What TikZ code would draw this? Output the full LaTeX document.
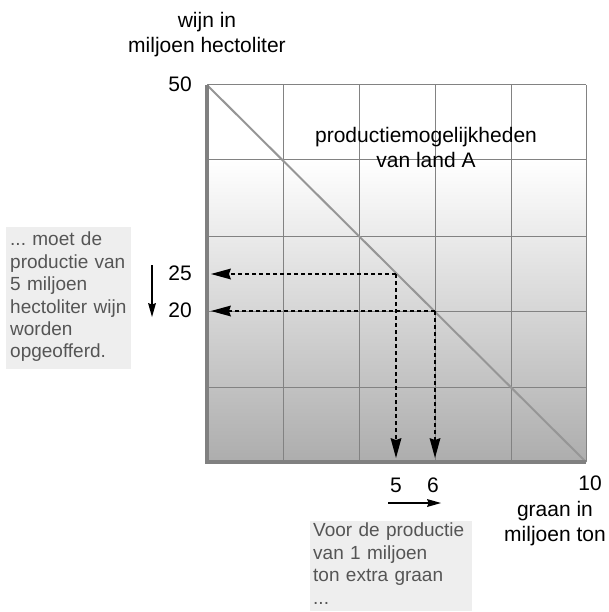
\documentclass[tikz,border=0pt]{standalone}
\usepackage{fontspec}
\setmainfont{Liberation Sans}
\usetikzlibrary{arrows.meta}
\frenchspacing
\definecolor{gridgray}{RGB}{130,130,130}
\definecolor{axisgray}{RGB}{128,128,128}
\definecolor{diaggray}{RGB}{150,150,150}
\definecolor{shadebot}{RGB}{173,173,173}
\definecolor{notefill}{RGB}{238,238,238}
\definecolor{notetext}{RGB}{85,85,85}
\tikzset{
  lbl/.style={font=\fontsize{21}{25}\selectfont, inner sep=0pt, align=center},
  note/.style={font=\fontsize{19}{22.4}\selectfont, text=notetext, align=left, anchor=north west},
  gridline/.style={draw=gridgray, line width=1pt},
  axisline/.style={draw=axisgray, line width=3.5pt},
  bigtip/.tip={Stealth[length=20pt,width=11pt,inset=2pt,line width=0pt]},
  smalltip/.tip={Stealth[length=14pt,width=8pt,inset=1.5pt,line width=0pt]},
  dasharrow/.style={line width=2pt, dash pattern=on 4pt off 3pt, -bigtip},
  solidarrow/.style={line width=1.5pt, -smalltip}
}
\begin{document}
\begin{tikzpicture}[x=1pt,y=-1pt]
\useasboundingbox (0,0) rectangle (609,612);
% plot area
\fill[white] (207,85) rectangle (586,160);
\shade[top color=white, bottom color=shadebot] (207,160) rectangle (586,462);
% grid
\foreach \x in {283,359,435,511,586} \draw[gridline] (\x,85) -- (\x,462);
\foreach \y in {85,160,236,311,387} \draw[gridline] (207,\y) -- (586,\y);
% named points
\coordinate (T) at (207,85);
\coordinate (O) at (207,462);
\coordinate (R) at (586,462);
\coordinate (P25) at (396,274);
\coordinate (P20) at (435,311);
\coordinate (L25) at (211,274);
\coordinate (L20) at (211,311);
\coordinate (B5) at (396,458);
\coordinate (B6) at (435,458);
% diagonal
\draw[draw=diaggray, line width=2pt] (T) -- (R);
% axes
\draw[axisline] (T) -- (O) -- (R);
% dashed arrows
\draw[dasharrow] (P25) -- (L25);
\draw[dasharrow] (P20) -- (L20);
\draw[dasharrow] (P25) -- (B5);
\draw[dasharrow] (P20) -- (B6);
% labels
\node[lbl] (ylab) at (207,35) {wijn in\\miljoen hectoliter};
\node[lbl, anchor=east] (n50) at (192,84) {50};
\node[lbl, anchor=east] (n25) at (192,273) {25};
\node[lbl, anchor=east] (n20) at (192,310) {20};
\node[lbl] (n5) at (396,485) {5};
\node[lbl] (n6) at (433,485) {6};
\node[lbl] (n10) at (590,483) {10};
\node[lbl] (xlab) at (555,524) {graan in\\miljoen ton};
\node[lbl] (title) at (426,147) {productiemogelijkheden\\van land A};
% small arrows
\coordinate (dA) at (152,265);
\coordinate (dB) at (152,317);
\coordinate (rA) at (388,503);
\coordinate (rB) at (441,503);
\draw[solidarrow] (dA) -- (dB);
\draw[solidarrow] (rA) -- (rB);
% notes
\fill[notefill] (6,227) rectangle (131,369);
\node[note, inner xsep=4pt, inner ysep=5pt, text width=118pt] (leftnote) at (6,227)
  {... moet de\\productie van\\5 miljoen\\hectoliter wijn\\worden\\opgeofferd.};
\fill[notefill] (310,521) rectangle (472,611);
\node[note, inner xsep=3pt, inner ysep=2pt, text width=156pt] (botnote) at (310,521)
  {Voor de productie\\van 1 miljoen\\ton extra graan\\...};
\end{tikzpicture}
\end{document}
